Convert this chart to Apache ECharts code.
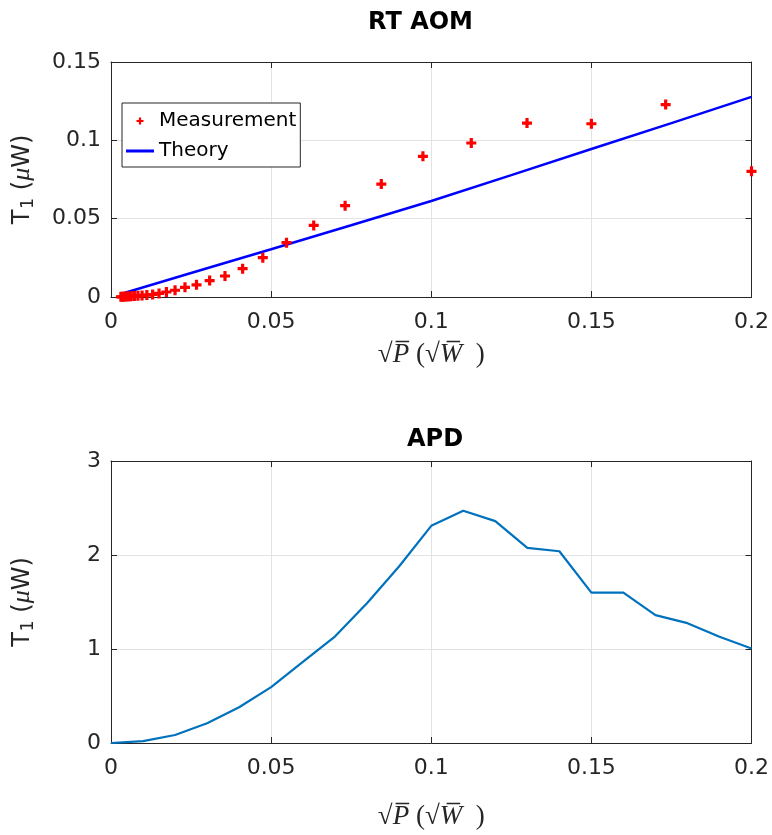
<!DOCTYPE html>
<html>
<head>
<meta charset="utf-8">
<script src="https://cdn.jsdelivr.net/npm/echarts@6/dist/echarts.min.js"></script>
<style>
html,body{margin:0;padding:0;background:#fff;}
#chart{width:772px;height:835px;}
</style>
</head>
<body>
<div id="chart"></div>
<script>
// ---- Data ----
const measX = [0.0031, 0.0036, 0.0041, 0.0047, 0.0055, 0.0063, 0.0073, 0.0084, 0.0097, 0.0112,
               0.0130, 0.0150, 0.0173, 0.0200, 0.0231, 0.0267, 0.0308, 0.0356, 0.0411, 0.0474,
               0.0548, 0.0633, 0.0731, 0.0844, 0.0974, 0.1125, 0.1299, 0.1500, 0.1732, 0.2000];
const measY = [0.0001, 0.00014, 0.00018, 0.00024, 0.00032, 0.00042, 0.00057, 0.00075, 0.0010, 0.0012,
               0.0016, 0.0023, 0.0032, 0.0043, 0.0062, 0.0078, 0.0105, 0.0134, 0.0181, 0.0251,
               0.0347, 0.0457, 0.0583, 0.0721, 0.0898, 0.0983, 0.1110, 0.1106, 0.1228, 0.0802];
const theoryX = [0.0031, 0.025, 0.05, 0.075, 0.1, 0.125, 0.15, 0.175, 0.2];
const theoryY = [0.0019, 0.0153, 0.0305, 0.0458, 0.0613, 0.0778, 0.0945, 0.1110, 0.1277];
const apdX = [0, 0.01, 0.02, 0.03, 0.04, 0.05, 0.06, 0.07, 0.08, 0.09, 0.10,
              0.11, 0.12, 0.13, 0.14, 0.15, 0.16, 0.17, 0.18, 0.19, 0.20];
const apdY = [0, 0.02, 0.085, 0.21, 0.38, 0.595, 0.865, 1.135, 1.49, 1.88, 2.31,
              2.47, 2.36, 2.075, 2.04, 1.60, 1.60, 1.36, 1.275, 1.13, 1.005];
const titles = ['RT AOM', 'APD'];
const seriesNames = ['Measurement', 'Theory'];

// ---- Styling ----
const AX = '#262626';
const GRID = '#e3e3e3';
const SANS = 'DejaVu Sans';
const PLUS = 'path://M3.4,0H6.6V3.4H10V6.6H6.6V10H3.4V6.6H0V3.4H3.4Z';
const LINEICON = 'path://M0,0H28V3H0Z';

const yName = '{t|T}{s|1}{t| (}{m|μ}{t|W)}';
const yNameRich = {
  t: {fontFamily: SANS, fontSize: 24, color: AX},
  s: {fontFamily: SANS, fontSize: 17, color: AX, padding: [12, 0, 0, 1]},
  m: {fontFamily: 'Liberation Serif', fontStyle: 'italic', fontSize: 26, color: AX}
};
const xName = '{r|√}{i|P\u0305 }{r|(√}{i|W\u0305}{r|  )}';
const xNameRich = {
  r: {fontFamily: 'Liberation Serif', fontSize: 27, color: AX},
  i: {fontFamily: 'Liberation Serif', fontStyle: 'italic', fontSize: 27, color: AX}
};

function xAx(grid, pos, show, nameGap) {
  return {
    type: 'value', gridIndex: grid, position: pos, min: 0, max: 0.2, interval: 0.05,
    axisLine: {show: true, onZero: false, lineStyle: {color: AX, width: 1}},
    axisTick: {show: true, inside: true, length: 6, lineStyle: {color: AX}},
    axisLabel: {show: show, margin: 14, fontFamily: SANS, fontSize: 22, color: AX},
    splitLine: {show: show, lineStyle: {color: GRID, width: 1}},
    name: show ? xName : '', nameLocation: 'middle', nameGap: nameGap,
    nameTextStyle: {rich: xNameRich}
  };
}
function yAx(grid, pos, show, max, interval) {
  return {
    type: 'value', gridIndex: grid, position: pos, min: 0, max: max, interval: interval,
    axisLine: {show: true, onZero: false, lineStyle: {color: AX, width: 1}},
    axisTick: {show: true, inside: true, length: 6, lineStyle: {color: AX}},
    axisLabel: {show: show, margin: 10, fontFamily: SANS, fontSize: 22, color: AX},
    splitLine: {show: show, lineStyle: {color: GRID, width: 1}},
    name: show ? yName : '', nameLocation: 'middle', nameRotate: 90, nameGap: 74,
    nameMoveOverlap: false,
    nameTextStyle: {rich: yNameRich}
  };
}

const chart = echarts.init(document.getElementById('chart'), null, {renderer: 'canvas'});
chart.setOption({
  animation: false,
  backgroundColor: '#fff',
  title: [
    {text: titles[0], left: 368, top: 11, padding: 0,
     textStyle: {fontFamily: SANS, fontSize: 24, fontWeight: 'bold', color: '#000'}},
    {text: titles[1], left: 407, top: 428, padding: 0,
     textStyle: {fontFamily: SANS, fontSize: 24, fontWeight: 'bold', color: '#000'}}
  ],
  legend: {
    orient: 'vertical', left: 122, top: 103,
    padding: [8, 4, 6, 4], itemGap: 10, itemWidth: 28, itemHeight: 7,
    borderColor: AX, borderWidth: 1, backgroundColor: '#fff',
    textStyle: {fontFamily: SANS, fontSize: 20, color: '#000'},
    data: [{name: seriesNames[0], icon: PLUS}, {name: seriesNames[1], icon: LINEICON}]
  },
  grid: [
    {left: 111, right: 20, top: 62, height: 235, containLabel: false},
    {left: 111, right: 20, top: 461, height: 282, containLabel: false}
  ],
  xAxis: [
    xAx(0, 'bottom', true, 44),
    xAx(0, 'top', false, 0),
    xAx(1, 'bottom', true, 60),
    xAx(1, 'top', false, 0)
  ],
  yAxis: [
    yAx(0, 'left', true, 0.15, 0.05),
    yAx(0, 'right', false, 0.15, 0.05),
    yAx(1, 'left', true, 3, 1),
    yAx(1, 'right', false, 3, 1)
  ],
  series: [
    {name: seriesNames[0], type: 'scatter', xAxisIndex: 0, yAxisIndex: 0,
     symbol: PLUS, symbolSize: 10, itemStyle: {color: '#ff0000', opacity: 1},
     data: measX.map((x, i) => [x, measY[i]]), z: 3},
    {name: seriesNames[1], type: 'line', xAxisIndex: 0, yAxisIndex: 0,
     showSymbol: false, lineStyle: {color: '#0000ff', width: 2.5}, itemStyle: {color: '#0000ff'},
     data: theoryX.map((x, i) => [x, theoryY[i]]), z: 2},
    {name: 'APD', type: 'line', xAxisIndex: 2, yAxisIndex: 2,
     showSymbol: false, lineStyle: {color: '#0072bd', width: 2.2}, itemStyle: {color: '#0072bd'},
     data: apdX.map((x, i) => [x, apdY[i]])}
  ]
});
</script>
</body>
</html>
